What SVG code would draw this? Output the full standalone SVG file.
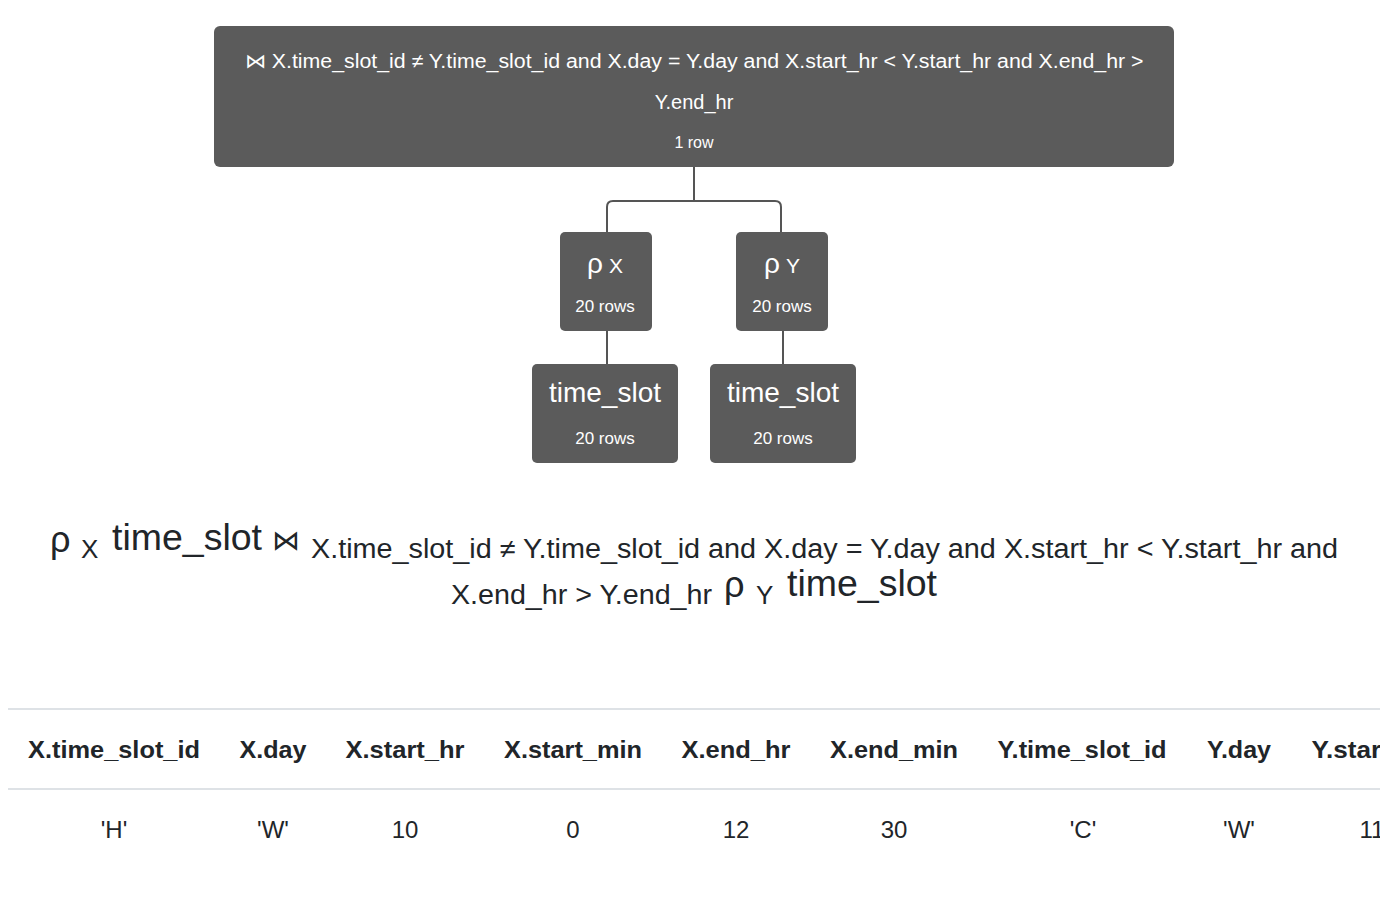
<svg xmlns="http://www.w3.org/2000/svg" width="1388" height="898" viewBox="0 0 1388 898">
<style>
.node{fill:#5b5b5b}
.nt{fill:#ffffff;font-family:"Liberation Sans",Arial,sans-serif;text-anchor:middle}
.conn{fill:none;stroke:#555555;stroke-width:2}
.ex{fill:#212529;font-family:"Liberation Sans",Arial,sans-serif}
.th{fill:#212529;font-family:"Liberation Sans",Arial,sans-serif;font-weight:bold;font-size:24px;text-anchor:middle}
.td{fill:#212529;font-family:"Liberation Sans",Arial,sans-serif;font-size:24px;text-anchor:middle}
.rule{stroke:#dee2e6;stroke-width:2}
</style>
<defs><clipPath id="tc"><rect x="0" y="690" width="1380" height="200"/></clipPath></defs>
<rect width="1388" height="898" fill="#ffffff"/>
<g id="connectors">
<path class="conn" d="M694,167 V201 M607,232 V207 Q607,201 613,201 H775 Q781,201 781,207 V232"/>
<path class="conn" d="M607,331 V364"/>
<path class="conn" d="M783,331 V364"/>
</g>
<g id="join">
<rect class="node" x="214" y="26" width="960" height="141" rx="6"/>
<text class="nt" x="694" y="68" font-size="20" textLength="899" lengthAdjust="spacingAndGlyphs">⋈ X.time_slot_id ≠ Y.time_slot_id and X.day = Y.day and X.start_hr &lt; Y.start_hr and X.end_hr &gt;</text>
<text class="nt" x="694" y="109" font-size="20">Y.end_hr</text>
<text class="nt" x="694" y="148" font-size="16">1 row</text>
</g>
<g id="rhoX">
<rect class="node" x="560" y="232" width="92" height="99" rx="5"/>
<text class="nt" x="605" y="273"><tspan font-size="28">ρ</tspan><tspan font-size="21"> X</tspan></text>
<text class="nt" x="605" y="312" font-size="17">20 rows</text>
</g>
<g id="rhoY">
<rect class="node" x="736" y="232" width="92" height="99" rx="5"/>
<text class="nt" x="782" y="273"><tspan font-size="28">ρ</tspan><tspan font-size="21"> Y</tspan></text>
<text class="nt" x="782" y="312" font-size="17">20 rows</text>
</g>
<g id="tsX">
<rect class="node" x="532" y="364" width="146" height="99" rx="5"/>
<text class="nt" x="605" y="402" font-size="28">time_slot</text>
<text class="nt" x="605" y="444" font-size="17">20 rows</text>
</g>
<g id="tsY">
<rect class="node" x="710" y="364" width="146" height="99" rx="5"/>
<text class="nt" x="783" y="402" font-size="28">time_slot</text>
<text class="nt" x="783" y="444" font-size="17">20 rows</text>
</g>
<g id="expression">
<text class="ex" x="50" y="552" font-size="36">ρ</text>
<text class="ex" x="81" y="558" font-size="26">X</text>
<text class="ex" x="112" y="550" font-size="36" textLength="150" lengthAdjust="spacingAndGlyphs">time_slot</text>
<text class="ex" x="272" y="550" font-size="28">⋈</text>
<text class="ex" x="311" y="558" font-size="27" textLength="1027" lengthAdjust="spacingAndGlyphs">X.time_slot_id ≠ Y.time_slot_id and X.day = Y.day and X.start_hr &lt; Y.start_hr and</text>
<text class="ex" x="451" y="604" font-size="27" textLength="261" lengthAdjust="spacingAndGlyphs">X.end_hr &gt; Y.end_hr</text>
<text class="ex" x="724" y="597" font-size="36">ρ</text>
<text class="ex" x="756" y="604" font-size="26">Y</text>
<text class="ex" x="787" y="596" font-size="36" textLength="150" lengthAdjust="spacingAndGlyphs">time_slot</text>
</g>
<g id="table" clip-path="url(#tc)">
<line class="rule" x1="8" y1="709" x2="1380" y2="709"/>
<line class="rule" x1="8" y1="789" x2="1380" y2="789"/>
<text class="th" x="114" y="758" textLength="172" lengthAdjust="spacingAndGlyphs">X.time_slot_id</text>
<text class="th" x="273" y="758" textLength="67" lengthAdjust="spacingAndGlyphs">X.day</text>
<text class="th" x="405" y="758" textLength="119" lengthAdjust="spacingAndGlyphs">X.start_hr</text>
<text class="th" x="573" y="758" textLength="138" lengthAdjust="spacingAndGlyphs">X.start_min</text>
<text class="th" x="736" y="758" textLength="109" lengthAdjust="spacingAndGlyphs">X.end_hr</text>
<text class="th" x="894" y="758" textLength="128" lengthAdjust="spacingAndGlyphs">X.end_min</text>
<text class="th" x="1082" y="758" textLength="169" lengthAdjust="spacingAndGlyphs">Y.time_slot_id</text>
<text class="th" x="1239" y="758" textLength="64" lengthAdjust="spacingAndGlyphs">Y.day</text>
<text class="th" x="1371" y="758" textLength="119" lengthAdjust="spacingAndGlyphs">Y.start_hr</text>
<text class="td" x="114" y="838">'H'</text>
<text class="td" x="273" y="838">'W'</text>
<text class="td" x="405" y="838">10</text>
<text class="td" x="573" y="838">0</text>
<text class="td" x="736" y="838">12</text>
<text class="td" x="894" y="838">30</text>
<text class="td" x="1083" y="838">'C'</text>
<text class="td" x="1239" y="838">'W'</text>
<text class="td" x="1372" y="838">11</text>
</g>
</svg>
